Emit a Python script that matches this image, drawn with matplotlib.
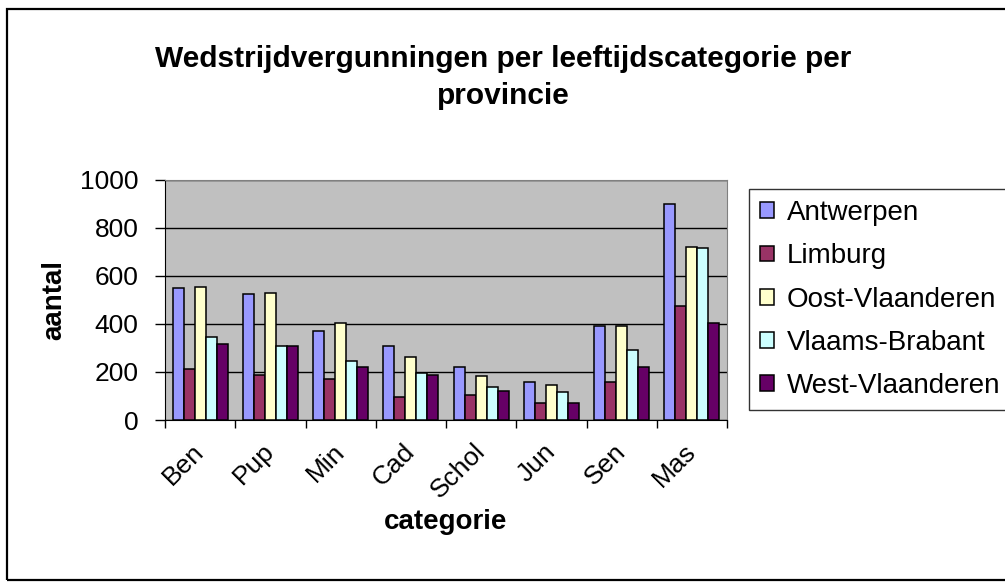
import matplotlib.pyplot as plt
import numpy as np
from matplotlib.patches import Rectangle

categories = ['Ben', 'Pup', 'Min', 'Cad', 'Schol', 'Jun', 'Sen', 'Mas']
provinces = ['Antwerpen', 'Limburg', 'Oost-Vlaanderen', 'Vlaams-Brabant', 'West-Vlaanderen']

antwerpen = [549, 522, 372, 306, 221, 157, 389, 899]
limburg = [212, 189, 171, 97, 105, 72, 157, 474]
oost_vlaanderen = [555, 530, 405, 264, 181, 147, 389, 721]
vlaams_brabant = [347, 306, 247, 197, 139, 115, 289, 714]
west_vlaanderen = [314, 306, 222, 189, 122, 72, 222, 405]

series = [antwerpen, limburg, oost_vlaanderen, vlaams_brabant, west_vlaanderen]
col = ['#9999FF', '#993366', '#FFFFCC', '#CCFFFF', '#660066']


def main():
    plt.rcParams['font.family'] = ['Liberation Sans', 'DejaVu Sans']

    fig = plt.figure(figsize=(10.05, 5.86), dpi=100)
    W, H = 1005, 586

    # outer chart border
    fig.patches.append(Rectangle((7 / W, 1 - 580 / H), 1.2, (580 - 9) / H,
                                 transform=fig.transFigure, fill=False,
                                 edgecolor='black', linewidth=1.6))

    ax = fig.add_axes([165 / W, 1 - 420 / H, (727 - 165) / W, (420 - 179.5) / H])
    ax.set_facecolor('#C0C0C0')

    x = np.arange(len(categories))
    bw = 0.157
    for i, (vals, name) in enumerate(zip(series, provinces)):
        ax.bar(x + (i - 2) * bw, vals, width=bw, color=col[i], edgecolor='black',
               linewidth=1.1, label=name, zorder=3)

    ax.set_xlim(-0.5, len(categories) - 0.5)
    ax.set_ylim(0, 1000)
    ax.set_yticks(np.arange(0, 1001, 200))
    ax.yaxis.grid(True, color='black', linewidth=1, zorder=1)
    ax.set_axisbelow(True)

    ax.set_xticks(x)
    ax.set_xticklabels(categories, rotation=45, ha='right', va='center',
                       rotation_mode='anchor', fontsize=19)
    ax.set_xticks(np.arange(-0.5, len(categories)), minor=True)
    ax.tick_params(axis='x', which='major', length=0, pad=20)
    ax.tick_params(axis='x', which='minor', length=6, width=1, color='black')
    ax.tick_params(axis='y', length=7, width=1, labelsize=19, pad=12)

    for s in ['top', 'right']:
        ax.spines[s].set_color('#808080')
    for s in ['left', 'bottom']:
        ax.spines[s].set_color('black')

    ax.set_ylabel('aantal', fontsize=20, fontweight='bold', va='center')
    ax.yaxis.set_label_coords((54 - 165) / 562, 0.5)
    ax.set_xlabel('categorie', fontsize=20, fontweight='bold', va='center')
    ax.xaxis.set_label_coords(0.5, (420 - 522) / 240.5)

    fig.text(503 / W, 1 - 77.5 / H, 'Wedstrijdvergunningen per leeftijdscategorie per\nprovincie',
             ha='center', va='center', fontsize=21.5, fontweight='bold', linespacing=1.4)

    leg = ax.legend(loc='upper left', bbox_to_anchor=(749 / W, 1 - 189 / H),
                    bbox_transform=fig.transFigure, fontsize=20, frameon=True,
                    fancybox=False, edgecolor='black', handlelength=0.5,
                    handleheight=0.5, handletextpad=0.47, labelspacing=0.62,
                    borderaxespad=0, borderpad=0.4)
    leg.get_frame().set_linewidth(1)

    plt.savefig('out.png', dpi=100)


if __name__ == '__main__':
    main()
